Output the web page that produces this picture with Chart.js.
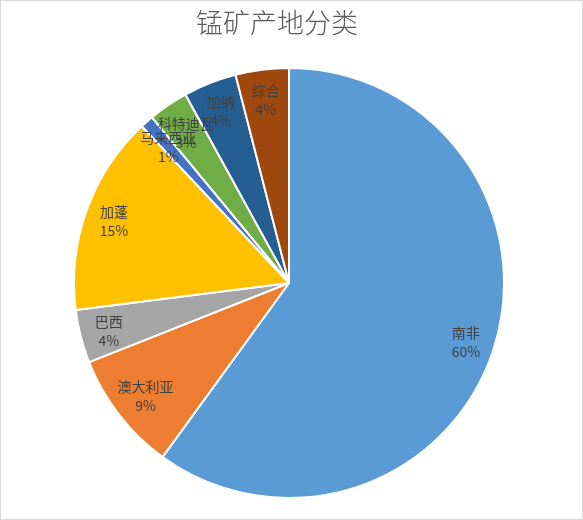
<!DOCTYPE html>
<html>
<head>
<meta charset="utf-8">
<title>锰矿产地分类</title>
<script src="https://cdn.jsdelivr.net/npm/chart.js@4/dist/chart.umd.min.js"></script>
<style>
  html, body { margin: 0; padding: 0; background: #ffffff; }
  #wrap { width: 583px; height: 520px; }
</style>
</head>
<body>
<div id="wrap"><canvas id="c" width="583" height="520"></canvas></div>
<script>
// Manganese ore origins, share of total (%)
const chartTitle = '锰矿产地分类';
const regions = ['南非', '澳大利亚', '巴西', '加蓬', '马来西亚', '科特迪瓦', '加纳', '综合'];
const shares = [60, 9, 4, 15, 1, 3, 4, 4];
const sliceColors = ['#5B9BD5', '#ED7D31', '#A5A5A5', '#FFC000', '#4472C4', '#70AD47', '#255E91', '#9E480E'];

const FONT = '"Noto Sans CJK SC", "Noto Sans", sans-serif';

// White page, thin grey frame and the title
const framePlugin = {
  id: 'frame',
  beforeDraw(chart) {
    const ctx = chart.ctx;
    ctx.save();
    ctx.fillStyle = '#ffffff';
    ctx.fillRect(0, 0, chart.width, chart.height);
    ctx.strokeStyle = '#d9d9d9';
    ctx.lineWidth = 1;
    ctx.strokeRect(0.5, 0.5, chart.width - 1, chart.height - 1);
    ctx.restore();
  },
  afterDraw(chart) {
    const ctx = chart.ctx;
    ctx.save();
    ctx.font = '300 27px ' + FONT;
    ctx.fillStyle = '#595959';
    ctx.textAlign = 'center';
    ctx.textBaseline = 'middle';
    ctx.fillText(chartTitle, 277, 23);
    ctx.restore();
  }
};

// Name + percentage inside each slice, near the rim
const sliceLabelPlugin = {
  id: 'sliceLabels',
  afterDatasetsDraw(chart) {
    const ctx = chart.ctx;
    const meta = chart.getDatasetMeta(0);
    const data = chart.data.datasets[0].data;
    const total = data.reduce((a, b) => a + b, 0);
    const lineGap = 19;
    const boxH = 38;
    ctx.save();
    ctx.font = '14px ' + FONT;
    ctx.fillStyle = '#404040';
    ctx.textAlign = 'center';
    ctx.textBaseline = 'middle';
    meta.data.forEach((arc, i) => {
      const p = arc.getProps(['x', 'y', 'startAngle', 'endAngle', 'outerRadius'], true);
      const mid = (p.startAngle + p.endAngle) / 2;
      const name = chart.data.labels[i];
      const pct = Math.round(data[i] / total * 100) + '%';
      const boxW = Math.max(ctx.measureText(name).width, ctx.measureText(pct).width);
      const limit = p.outerRadius + 0.5;
      let r = p.outerRadius * 0.865;
      let cx, cy;
      // pull the label toward the centre until its box sits inside the rim
      for (;;) {
        cx = p.x + Math.cos(mid) * r;
        cy = p.y + Math.sin(mid) * r;
        let far = 0;
        for (const sx of [-1, 1]) {
          for (const sy of [-1, 1]) {
            const dx = cx + sx * boxW / 2 - p.x;
            const dy = cy + sy * boxH / 2 - p.y;
            far = Math.max(far, Math.hypot(dx, dy));
          }
        }
        if (far <= limit || r <= 0) break;
        r -= 0.5;
      }
      ctx.fillText(name, cx, cy - lineGap / 2 + 1.5);
      ctx.fillText(pct, cx, cy + lineGap / 2 + 1.5);
    });
    ctx.restore();
  }
};

new Chart(document.getElementById('c'), {
  type: 'pie',
  data: {
    labels: regions,
    datasets: [{
      data: shares,
      backgroundColor: sliceColors,
      borderColor: '#ffffff',
      borderWidth: 2
    }]
  },
  options: {
    responsive: false,
    animation: false,
    layout: { padding: { top: 67, bottom: 21, left: 73, right: 78 } },
    plugins: {
      legend: { display: false },
      title: { display: false },
      tooltip: { enabled: false }
    }
  },
  plugins: [framePlugin, sliceLabelPlugin]
});
</script>
</body>
</html>
